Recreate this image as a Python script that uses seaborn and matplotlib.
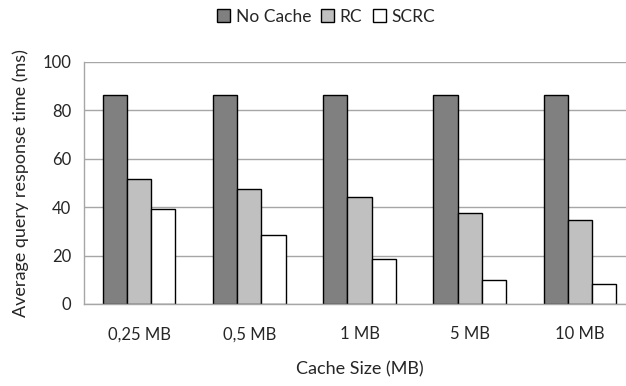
import seaborn as sns
import matplotlib.pyplot as plt
import pandas as pd
from matplotlib.patches import Patch

sizes = ['0,25 MB', '0,5 MB', '1 MB', '5 MB', '10 MB']
no_cache = [86.5, 86.5, 86.5, 86.5, 86.5]
rc = [51.7, 47.5, 44.3, 37.5, 34.8]
scrc = [39.1, 28.5, 18.5, 10.0, 8.3]
series = ['No Cache', 'RC', 'SCRC']
colors = ['#808080', '#c0c0c0', '#ffffff']

df = pd.DataFrame({
    'size': sizes * 3,
    'method': [s for s in series for _ in sizes],
    'time': no_cache + rc + scrc,
})

sns.set_style('white')
plt.rcParams['font.family'] = ['Lato', 'DejaVu Sans']

fig = plt.figure(figsize=(6.26, 3.86), dpi=100)
ax = fig.add_axes([84 / 626, 82 / 386, 551 / 626, 242 / 386])

sns.barplot(data=df, x='size', y='time', hue='method', order=sizes,
            hue_order=series, palette=colors, width=0.66,
            edgecolor='black', linewidth=1, saturation=1, legend=False, ax=ax)

ax.set_ylim(0, 100)
ax.set_xlim(-0.5, len(sizes) - 0.5)
ax.set_yticks(range(0, 101, 20))
ax.yaxis.grid(True, color='#a6a6a6', linewidth=1)
ax.set_axisbelow(True)

# tick marks between groups, labels at group centres
ax.set_xticks([i - 0.5 for i in range(len(sizes) + 1)])
ax.set_xticklabels([])
ax.set_xticks(range(len(sizes)), minor=True)
ax.set_xticklabels(sizes, minor=True, fontsize=12)
ax.tick_params(axis='x', which='major', length=7, color='#a6a6a6', width=1, direction='out')
ax.tick_params(axis='x', which='minor', length=0, pad=16)
ax.tick_params(axis='y', length=6, color='#a6a6a6', width=1, direction='out', labelsize=12, pad=3)

for side in ['top', 'right']:
    ax.spines[side].set_visible(False)
for side in ['left', 'bottom']:
    ax.spines[side].set_color('#a6a6a6')
    ax.spines[side].set_linewidth(1)

ax.set_xlabel('Cache Size (MB)', fontsize=13, labelpad=14)
ax.set_ylabel('Average query response time (ms)', fontsize=13, labelpad=10)

handles = [Patch(facecolor=c, edgecolor='black', linewidth=1, label=s) for s, c in zip(series, colors)]
fig.legend(handles=handles, loc='upper center', bbox_to_anchor=(326 / 626, 1.0), ncol=3,
           frameon=False, fontsize=12.5, handlelength=0.75, handleheight=0.75,
           handletextpad=0.3, columnspacing=0.6, borderaxespad=0.1)

fig.savefig('out.png', dpi=100)
